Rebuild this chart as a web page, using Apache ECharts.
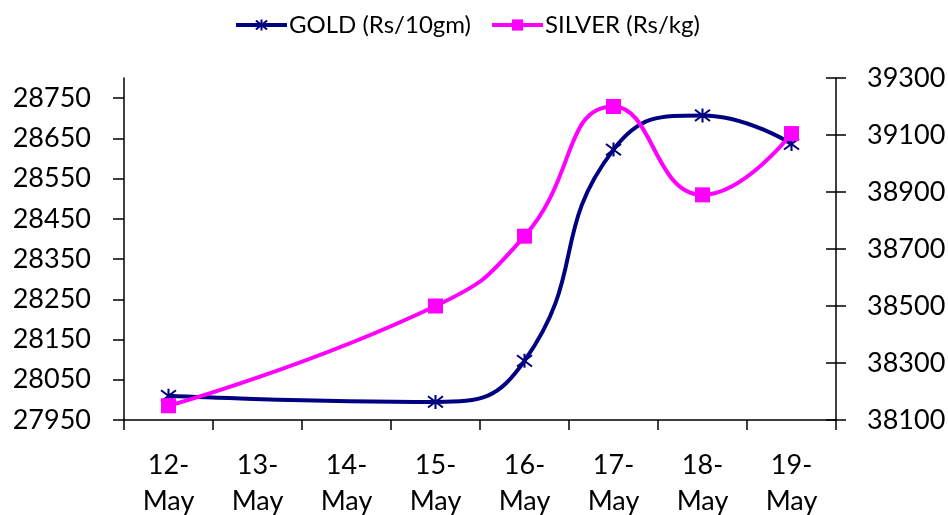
<!DOCTYPE html>
<html>
<head>
<meta charset="utf-8">
<script src="https://cdn.jsdelivr.net/npm/echarts@6/dist/echarts.min.js"></script>
<style>
  html, body { margin: 0; padding: 0; background: #fff; }
  #chart { width: 948px; height: 515px; }
</style>
</head>
<body>
<div id="chart"></div>
<script>
// Daily bullion prices, 12-19 May (no quotes on 13 and 14 May)
const days = ['12-\nMay', '13-\nMay', '14-\nMay', '15-\nMay', '16-\nMay', '17-\nMay', '18-\nMay', '19-\nMay'];
const goldPrices = [28010, null, null, 27995, 28097, 28622, 28707, 28636];
const silverPrices = [38150, null, null, 38500, 38745, 39200, 38890, 39105];
const goldTicks = [27950, 28050, 28150, 28250, 28350, 28450, 28550, 28650, 28750];
const silverTicks = [38100, 38300, 38500, 38700, 38900, 39100, 39300];

const FONT = 'Lato';
const BLACK = '#000';
const GOLD = '#000080';
const SILVER = '#FF00FF';

// six-armed asterisk marker (vertical stroke plus an X)
const starPath = 'path://M10,0L10,20M0,2L20,18M0,18L20,2';
const plain = v => String(v);

const chart = echarts.init(document.getElementById('chart'), null, { renderer: 'canvas' });

chart.setOption({
  animation: false,
  backgroundColor: '#fff',
  textStyle: { fontFamily: FONT },
  legend: {
    left: 229,
    top: 8,
    itemWidth: 51,
    itemHeight: 14,
    itemGap: 19,
    lineStyle: { width: 4 },
    textStyle: { fontFamily: FONT, fontSize: 24, color: BLACK, padding: [0, 0, 0, -3] },
    data: ['GOLD (Rs/10gm)', 'SILVER (Rs/kg)']
  },
  grid: { left: 124, right: 112, top: 78, bottom: 95, containLabel: false, outerBoundsMode: 'none' },
  xAxis: {
    type: 'category',
    data: days,
    boundaryGap: true,
    axisLine: { lineStyle: { color: BLACK, width: 1.5 } },
    axisTick: { show: true, length: 10, lineStyle: { color: BLACK, width: 1.5 } },
    axisLabel: {
      interval: 0,
      margin: 27,
      fontFamily: FONT,
      fontSize: 27,
      lineHeight: 36,
      color: BLACK
    },
    splitLine: { show: false }
  },
  yAxis: [
    {
      type: 'value',
      position: 'left',
      min: 27950,
      max: 28800,
      interval: 100,
      axisLine: { show: true, lineStyle: { color: BLACK, width: 1.5 } },
      axisTick: { show: true, length: 11, customValues: goldTicks, lineStyle: { color: BLACK, width: 1.5 } },
      axisLabel: { margin: 33, customValues: goldTicks, formatter: plain, fontFamily: FONT, fontSize: 27, color: BLACK },
      splitLine: { show: false }
    },
    {
      type: 'value',
      position: 'right',
      min: 38100,
      max: 39300,
      interval: 200,
      axisLine: { show: true, lineStyle: { color: BLACK, width: 1.5 } },
      axisTick: { show: true, length: 10, customValues: silverTicks, lineStyle: { color: BLACK, width: 1.5 } },
      axisLabel: { margin: 31, customValues: silverTicks, formatter: plain, fontFamily: FONT, fontSize: 27, color: BLACK },
      splitLine: { show: false }
    },
    {
      // inner half of the crossing ticks on the right axis
      type: 'value',
      position: 'right',
      min: 38100,
      max: 39300,
      interval: 200,
      axisLine: { show: false },
      axisTick: { show: true, inside: true, length: 10, customValues: silverTicks, lineStyle: { color: BLACK, width: 1.5 } },
      axisLabel: { show: false },
      splitLine: { show: false }
    }
  ],
  series: [
    {
      name: 'GOLD (Rs/10gm)',
      type: 'line',
      yAxisIndex: 0,
      data: goldPrices,
      connectNulls: true,
      smooth: 0.5,
      symbol: starPath,
      symbolSize: [15, 14],
      color: GOLD,
      lineStyle: { color: GOLD, width: 4 },
      itemStyle: { color: GOLD, borderColor: GOLD, borderWidth: 2 },
      z: 3
    },
    {
      name: 'SILVER (Rs/kg)',
      type: 'line',
      yAxisIndex: 1,
      data: silverPrices,
      connectNulls: true,
      smooth: 0.5,
      symbol: 'rect',
      symbolSize: 15,
      color: SILVER,
      lineStyle: { color: SILVER, width: 4 },
      itemStyle: { color: SILVER, borderWidth: 0 },
      z: 4
    }
  ]
});
</script>
</body>
</html>
